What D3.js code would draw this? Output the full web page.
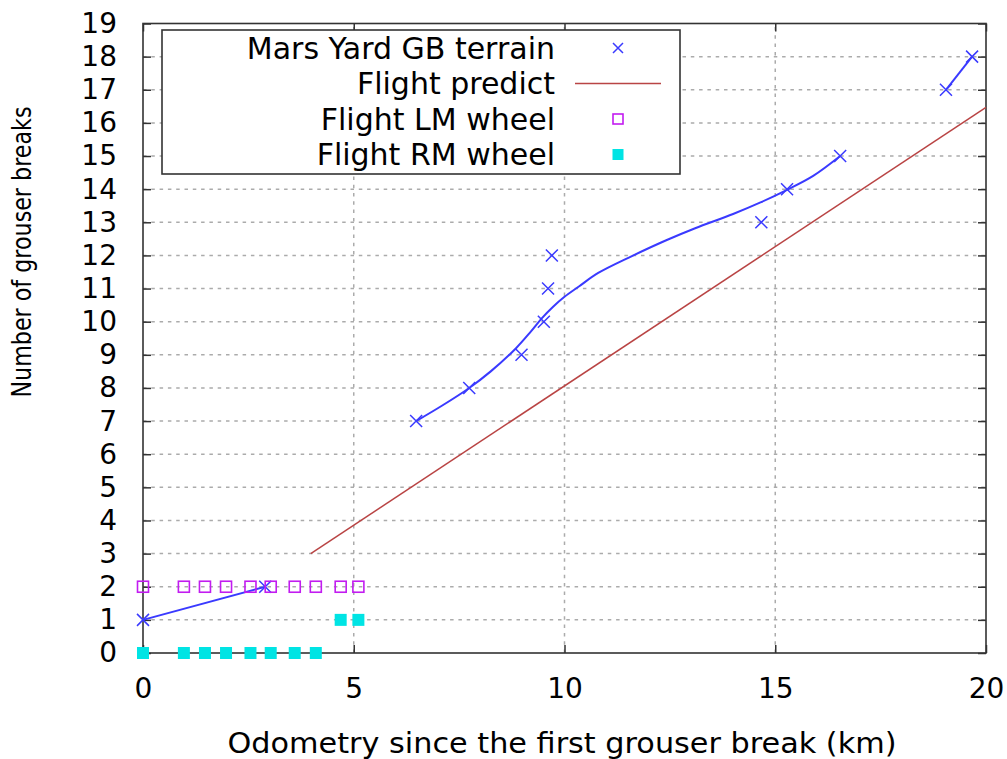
<!DOCTYPE html>
<html>
<head>
<meta charset="utf-8">
<script src="https://cdn.jsdelivr.net/npm/d3@7"></script>
<style>
  html, body { margin: 0; padding: 0; background: #fff; }
  svg { display: block; font-family: "DejaVu Sans", sans-serif; }
</style>
</head>
<body>
<svg id="chart" width="1007" height="759"></svg>
<script>
// Mars Yard grouser-break test points (odometry km, breaks)
const marsX = [0, 2.9, 6.48, 7.74, 8.98, 9.51, 9.61, 9.7, 14.67, 15.28, 16.54, 19.05, 19.67];
const marsY = [1, 2, 7, 8, 9, 10, 11, 12, 13, 14, 15, 17, 18];

// Smoothed trend through the Mars Yard points, one array per run
const trendA = [[0, 1], [2.9, 2]];
const trendB = [[6.48, 7.0], [7.1, 7.47], [7.74, 8.0], [8.25, 8.5], [8.85, 9.2], [9.2, 9.7],
                [9.46, 10.1], [9.73, 10.45], [10.0, 10.75], [10.35, 11.07], [10.8, 11.47],
                [11.6, 11.98], [12.4, 12.45], [13.1, 12.82], [14.0, 13.25], [14.65, 13.6],
                [15.28, 13.98], [15.9, 14.4], [16.54, 15.0]];
const trendC = [[19.05, 17], [19.67, 18]];

// Flight prediction line
const predictX = [3.98, 20];
const predictY = [3.0, 16.47];

// Flight wheel observations
const lmX = [0, 0.97, 1.47, 1.97, 2.55, 3.03, 3.6, 4.1, 4.69, 5.11];
const lmY = [2, 2, 2, 2, 2, 2, 2, 2, 2, 2];
const rmX = [0, 0.97, 1.47, 1.97, 2.55, 3.03, 3.6, 4.1, 4.69, 5.11];
const rmY = [0, 0, 0, 0, 0, 0, 0, 0, 1, 1];

const xTicks = [0, 5, 10, 15, 20];
const yTicks = d3.range(0, 20);

const legendLabels = ["Mars Yard GB terrain", "Flight predict", "Flight LM wheel", "Flight RM wheel"];

const C = {
  mars: "#3a3aff",
  predict: "#b94444",
  lm: "#c21cf0",
  rm: "#00e4e4",
  grid: "#ababab",
  frame: "#333"
};

const svg = d3.select("#chart");
const L = 143, R = 986, T = 23.5, B = 653;
const x = d3.scaleLinear().domain([0, 20]).range([L, R]);
const y = d3.scaleLinear().domain([0, 19]).range([B, T]);

// grid
const grid = svg.append("g").attr("stroke", C.grid).attr("stroke-width", 1.5)
  .attr("stroke-dasharray", "3.5,4.8");
grid.selectAll("line.h").data(yTicks.filter(v => v > 0 && v < 19)).join("line")
  .attr("x1", L).attr("x2", R).attr("y1", d => y(d)).attr("y2", d => y(d));
grid.selectAll("line.v").data(xTicks.filter(v => v > 0 && v < 20)).join("line")
  .attr("y1", B).attr("y2", T).attr("x1", d => x(d)).attr("x2", d => x(d));

// axes with inward ticks and mirrored ticks on top/right
const fontSize = 28;
const styleAxis = g => {
  g.select(".domain").remove();
  g.selectAll(".tick line").attr("stroke", C.frame).attr("stroke-width", 1.5);
  g.selectAll(".tick text").attr("fill", "#000").style("font-size", fontSize + "px")
    .style("font-family", "DejaVu Sans, sans-serif");
};
svg.append("g").attr("transform", `translate(${L},0)`)
  .call(d3.axisLeft(y).tickValues(yTicks).tickSize(-8).tickPadding(26).tickFormat(d3.format("d")))
  .call(styleAxis);
svg.append("g").attr("transform", `translate(${R},0)`)
  .call(d3.axisRight(y).tickValues(yTicks).tickSize(-8).tickFormat(""))
  .call(styleAxis);
svg.append("g").attr("transform", `translate(0,${B})`)
  .call(d3.axisBottom(x).tickValues(xTicks).tickSize(-8).tickPadding(25).tickFormat(d3.format("d")))
  .call(styleAxis);
svg.append("g").attr("transform", `translate(0,${T})`)
  .call(d3.axisTop(x).tickValues(xTicks).tickSize(-8).tickFormat(""))
  .call(styleAxis);

// frame
svg.append("rect").attr("x", L).attr("y", T).attr("width", R - L).attr("height", B - T)
  .attr("fill", "none").attr("stroke", C.frame).attr("stroke-width", 1.6);

// axis titles
svg.append("text").attr("x", 562).attr("y", 753).attr("text-anchor", "middle")
  .attr("textLength", 669).attr("lengthAdjust", "spacingAndGlyphs")
  .style("font-size", "28px").text("Odometry since the first grouser break (km)");
svg.append("text").attr("transform", "translate(31,252) rotate(-90)").attr("text-anchor", "middle")
  .attr("textLength", 291).attr("lengthAdjust", "spacingAndGlyphs")
  .style("font-size", "26px").text("Number of grouser breaks");

// flight prediction
svg.append("line")
  .attr("x1", x(predictX[0])).attr("y1", y(predictY[0]))
  .attr("x2", x(predictX[1])).attr("y2", y(predictY[1]))
  .attr("stroke", C.predict).attr("stroke-width", 1.5);

// Mars Yard trend curves
const line = d3.line().x(d => x(d[0])).y(d => y(d[1])).curve(d3.curveCatmullRom);
[trendA, trendB, trendC].forEach(seg => {
  svg.append("path").attr("d", line(seg)).attr("fill", "none")
    .attr("stroke", C.mars).attr("stroke-width", 2);
});

// markers
const crossPath = s => `M${-s},${-s}L${s},${s}M${-s},${s}L${s},${-s}`;
svg.append("g").selectAll("path").data(marsX.map((v, i) => [v, marsY[i]])).join("path")
  .attr("transform", d => `translate(${x(d[0])},${y(d[1])})`)
  .attr("d", crossPath(6)).attr("stroke", C.mars).attr("stroke-width", 1.5).attr("fill", "none");

svg.append("g").selectAll("rect").data(lmX.map((v, i) => [v, lmY[i]])).join("rect")
  .attr("x", d => x(d[0]) - 5.5).attr("y", d => y(d[1]) - 5.5)
  .attr("width", 11).attr("height", 11)
  .attr("fill", "none").attr("stroke", C.lm).attr("stroke-width", 1.6);

svg.append("g").selectAll("rect").data(rmX.map((v, i) => [v, rmY[i]])).join("rect")
  .attr("x", d => x(d[0]) - 6).attr("y", d => y(d[1]) - 6)
  .attr("width", 12).attr("height", 12).attr("fill", C.rm);

// legend
const lg = svg.append("g");
lg.append("rect").attr("x", 162).attr("y", 30).attr("width", 518).attr("height", 144)
  .attr("fill", "#fff").attr("stroke", C.frame).attr("stroke-width", 1.6);
const rowY = i => 48 + i * 35.5;
lg.selectAll("text").data(legendLabels).join("text")
  .attr("x", 555).attr("y", (d, i) => rowY(i)).attr("dy", "0.36em")
  .attr("text-anchor", "end").style("font-size", "30px")
  .text(d => d);
lg.append("path").attr("transform", `translate(618,${rowY(0)})`).attr("d", crossPath(5))
  .attr("stroke", C.mars).attr("stroke-width", 1.5);
lg.append("line").attr("x1", 575).attr("x2", 661).attr("y1", rowY(1)).attr("y2", rowY(1))
  .attr("stroke", C.predict).attr("stroke-width", 1.5);
lg.append("rect").attr("x", 618 - 5).attr("y", rowY(2) - 5).attr("width", 10).attr("height", 10)
  .attr("fill", "none").attr("stroke", C.lm).attr("stroke-width", 1.6);
lg.append("rect").attr("x", 618 - 5.5).attr("y", rowY(3) - 5.5).attr("width", 11).attr("height", 11)
  .attr("fill", C.rm);
</script>
</body>
</html>
